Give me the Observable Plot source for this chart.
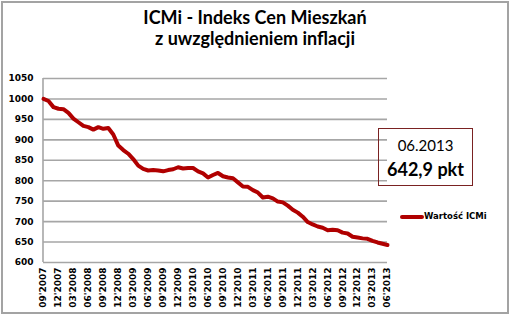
<!DOCTYPE html>
<html>
<head>
<meta charset="utf-8">
<script src="https://cdn.jsdelivr.net/npm/d3@7"></script>
<script src="https://cdn.jsdelivr.net/npm/@observablehq/plot@0.6"></script>
<style>
  html, body { margin: 0; padding: 0; background: #fff; }
  #wrap { position: relative; width: 510px; height: 315px; overflow: hidden; }
  #border { position: absolute; left: 1px; top: 1px; width: 508px; height: 313px; box-sizing: border-box; border: 2px solid #a3a3a3; }
  .title { position: absolute; left: 0; width: 510px; text-align: center; font-family: Lato, "Open Sans", sans-serif; font-weight: bold; font-size: 18px; color: #000; line-height: 20px; }
  #chart { position: absolute; left: 0; top: 50px; }
  #chart svg text { font-family: "DejaVu Sans", sans-serif; font-weight: bold; }
  #note { position: absolute; left: 378px; top: 128px; width: 95px; height: 58px; box-sizing: border-box; border: 1px solid #7a2222; text-align: center; font-family: Lato, sans-serif; color: #000; }
  #note .d { position: absolute; left: 0; width: 100%; top: 7px; font-size: 15px; line-height: 18px; }
  #note .v { position: absolute; left: 0; width: 100%; top: 30px; font-size: 18px; font-weight: bold; line-height: 20px; }
  #legend { position: absolute; left: 400px; top: 210px; font-family: "DejaVu Sans", sans-serif; font-weight: bold; font-size: 8.5px; color: #000; }
  #legend .sw { position: absolute; left: 0; top: 5px; width: 24px; height: 4px; background: #b00000; border-radius: 2px; }
  #legend .tx { position: absolute; left: 24px; top: 0; white-space: nowrap; line-height: 13px; }
</style>
</head>
<body>
<div id="wrap">
  <div id="border"></div>
  <div class="title" style="top:7px">ICMi - Indeks Cen Mieszkań</div>
  <div class="title" style="top:28px">z uwzględnieniem inflacji</div>
  <div id="chart"></div>
  <div id="note"><div class="d">06.2013</div><div class="v">642,9 pkt</div></div>
  <div id="legend"><div class="sw"></div><div class="tx">Wartość ICMi</div></div>
</div>
<script>
// Monthly index values, 09.2007 … 06.2013
const values = [1000,995,980,976,975,966,952,943,934,931,925,931,927,929,913,886,875,866,853,837,829,825,826,825,823,826,828,833,830,831,831,823,818,808,814,819,811,808,806,796,786,785,777,771,759,761,757,749,747,739,729,722,712,699,693,688,685,679,680,679,673,671,663,661,659,658,653,649,646,642.9];
// Quarterly tick labels (every 3rd month)
const tickLabels = ["09'2007","12'2007","03'2008","06'2008","09'2008","12'2008","03'2009","06'2009","09'2009","12'2009","03'2010","06'2010","09'2010","12'2010","03'2011","06'2011","09'2011","12'2011","03'2012","06'2012","09'2012","12'2012","03'2013","06'2013"];
const yTicks = [600,650,700,750,800,850,900,950,1000,1050];
const seriesName = "Wartość ICMi";

const data = values.map((v, i) => ({i, v}));
const xTicks = tickLabels.map((_, k) => k * 3);

const chart = Plot.plot({
  width: 510,
  height: 265,
  marginLeft: 43,
  marginRight: 123,
  marginTop: 28,
  marginBottom: 53,
  style: {fontFamily: "'DejaVu Sans', sans-serif", fontSize: "9px", fontWeight: "bold", color: "#000", background: "transparent"},
  x: {domain: [0, values.length - 1]},
  y: {domain: [600, 1050]},
  marks: [
    Plot.gridY(yTicks, {stroke: "#a6a6a6", strokeOpacity: 1, strokeWidth: 1.6}),
    Plot.ruleX([0], {stroke: "#a6a6a6", strokeWidth: 1.6, dx: -0.5}),
    Plot.axisY(yTicks, {tickSize: 0, tickPadding: 10, label: null, tickFormat: d => String(d), fontFamily: "DejaVu Sans", fontWeight: "bold"}),
    Plot.axisX(xTicks, {tickSize: 0, tickPadding: 5, tickRotate: -90, label: null, tickFormat: d => tickLabels[d / 3], fontFamily: "DejaVu Sans", fontWeight: "bold"}),
    Plot.line(data, {x: "i", y: "v", stroke: "#b00000", strokeWidth: 4, strokeLinejoin: "round", strokeLinecap: "round"})
  ]
});
document.getElementById("chart").appendChild(chart);
</script>
</body>
</html>
